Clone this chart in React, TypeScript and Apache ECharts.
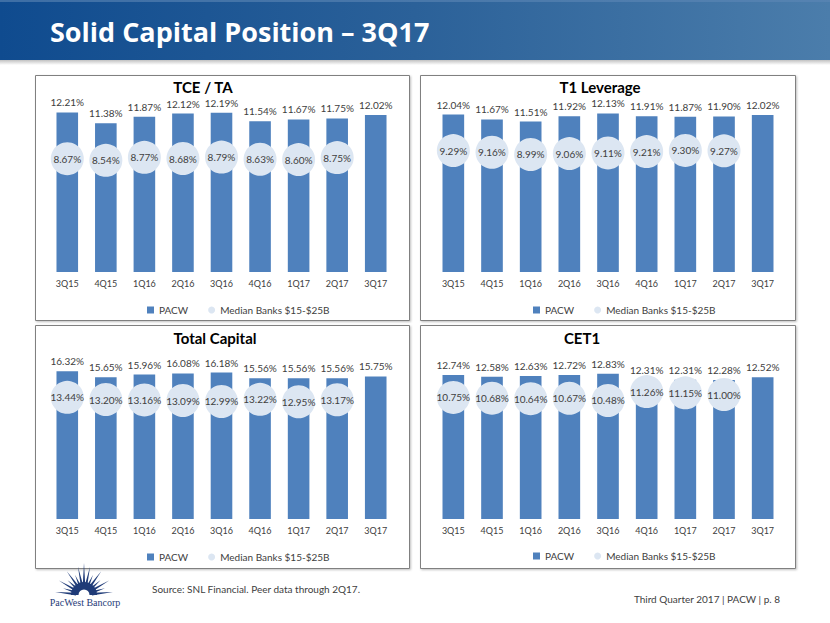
import React, { useEffect, useRef } from "react";
import * as echarts from "echarts";

const categories = ["3Q15", "4Q15", "1Q16", "2Q16", "3Q16", "4Q16", "1Q17", "2Q17", "3Q17"];
const tceTaPacw = [12.21, 11.38, 11.87, 12.12, 12.19, 11.54, 11.67, 11.75, 12.02];
const tceTaMedian = [8.67, 8.54, 8.77, 8.68, 8.79, 8.63, 8.6, 8.75];
const t1LevPacw = [12.04, 11.67, 11.51, 11.92, 12.13, 11.91, 11.87, 11.9, 12.02];
const t1LevMedian = [9.29, 9.16, 8.99, 9.06, 9.11, 9.21, 9.3, 9.27];
const totalCapPacw = [16.32, 15.65, 15.96, 16.08, 16.18, 15.56, 15.56, 15.56, 15.75];
const totalCapMedian = [13.44, 13.2, 13.16, 13.09, 12.99, 13.22, 12.95, 13.17];
const cet1Pacw = [12.74, 12.58, 12.63, 12.72, 12.83, 12.31, 12.31, 12.28, 12.52];
const cet1Median = [10.75, 10.68, 10.64, 10.67, 10.48, 11.26, 11.15, 11.0];

const panelTitles = ["TCE / TA", "T1 Leverage", "Total Capital", "CET1"];
const seriesNames = ["PACW", "Median Banks $15-$25B"];
const pageTitle = "Solid Capital Position \u2013 3Q17";
const sourceText = "Source: SNL Financial. Peer data through 2Q17.";
const footerText = "Third Quarter 2017 | PACW | p. 8";
const logoText = "PacWest Bancorp";

const FONT = "Lato, 'Open Sans', sans-serif";
const TITLE_FONT = "'Open Sans', Lato, sans-serif";
const TXT = "#404040";
const BAR = "#4f81bd";
const DOT = "#dce6f2";
const NAVY = "#1f3b78";

const panels = [
  { pacw: tceTaPacw, med: tceTaMedian, max: 14, grid: { left: 48, top: 89, width: 347, height: 183 }, box: [35, 75, 374, 245], title: [203, 87], legend: [142, 300] },
  { pacw: t1LevPacw, med: t1LevMedian, max: 14, grid: { left: 434, top: 89, width: 348, height: 183 }, box: [420, 75, 375, 245], title: [600, 87], legend: [528, 300] },
  { pacw: totalCapPacw, med: totalCapMedian, max: 20, grid: { left: 48, top: 338, width: 347, height: 181 }, box: [35, 325, 374, 243], title: [215, 338], legend: [142, 547] },
  { pacw: cet1Pacw, med: cet1Median, max: 16, grid: { left: 434, top: 338, width: 348, height: 181 }, box: [420, 325, 375, 243], title: [582, 338], legend: [528, 546] },
];

function logoElements(): any[] {
  const cx = 84;
  const cy = 595;
  const els: any[] = [];
  const n = 15;
  for (let i = 0; i < n; i++) {
    const a = (Math.PI * (i + 0.5)) / n;
    const mid = i === Math.floor(n / 2);
    const len = mid ? 32 : i % 2 === 0 ? 29 : 22;
    const da = 0.17;
    const r0 = 8;
    const pts = [
      [cx + r0 * Math.cos(a - da), cy - r0 * Math.sin(a - da)],
      [cx + len * Math.cos(a), cy - len * Math.sin(a)],
      [cx + r0 * Math.cos(a + da), cy - r0 * Math.sin(a + da)],
    ];
    els.push({ type: "polygon", shape: { points: pts }, style: { fill: NAVY }, silent: true });
  }
  els.push({ type: "sector", shape: { cx, cy, r: 13, startAngle: Math.PI, endAngle: 2 * Math.PI }, style: { fill: NAVY }, silent: true });
  els.push({ type: "sector", shape: { cx, cy, r: 5.5, startAngle: Math.PI, endAngle: 2 * Math.PI }, style: { fill: "#ffffff" }, silent: true });
  els.push({
    type: "text",
    style: { text: logoText, x: cx + 1, y: 602, fill: NAVY, fontFamily: "'Liberation Serif', 'DejaVu Serif', serif", fontSize: 10, align: "center", verticalAlign: "middle" },
    silent: true,
  });
  return els;
}

export default function App() {
  const ref = useRef<HTMLDivElement>(null);
  useEffect(() => {
    document.body.style.margin = "0";
    if (!ref.current) return;
    const chart = echarts.init(ref.current, null, { renderer: "svg" });

    const graphic: any[] = [
      {
        type: "rect",
        shape: { x: 0, y: 58, width: 830, height: 7 },
        style: { fill: new echarts.graphic.LinearGradient(0, 0, 0, 1, [{ offset: 0, color: "#a9a9a9" }, { offset: 1, color: "#ffffff" }]) },
        silent: true,
      },
      {
        type: "rect",
        shape: { x: 0, y: 0, width: 830, height: 60 },
        style: {
          fill: new echarts.graphic.LinearGradient(0, 0, 1, 0, [
            { offset: 0, color: "#0f4b8f" },
            { offset: 0.5, color: "#2b6199" },
            { offset: 1, color: "#4b7dab" },
          ]),
        },
        silent: true,
      },
      { type: "rect", shape: { x: 0, y: 0, width: 830, height: 2 }, style: { fill: "#5d87b5", opacity: 0.6 }, silent: true },
      {
        type: "text",
        style: { text: pageTitle, x: 50, y: 31, fill: "#ffffff", fontFamily: TITLE_FONT, fontWeight: "bold", fontSize: 27, align: "left", verticalAlign: "middle" },
        silent: true,
      },
      {
        type: "text",
        style: { text: sourceText, x: 152, y: 589, fill: TXT, fontFamily: FONT, fontSize: 10, align: "left", verticalAlign: "middle" },
        silent: true,
      },
      {
        type: "text",
        style: { text: footerText, x: 780, y: 599, fill: TXT, fontFamily: FONT, fontSize: 10, align: "right", verticalAlign: "middle" },
        silent: true,
      },
      ...logoElements(),
    ];

    panels.forEach((p, i) => {
      graphic.push({
        type: "rect",
        z: -1,
        shape: { x: p.box[0] + 0.5, y: p.box[1] + 0.5, width: p.box[2], height: p.box[3] },
        style: { fill: "#ffffff", stroke: "#808080", lineWidth: 1, shadowBlur: 2, shadowColor: "rgba(0,0,0,0.25)", shadowOffsetX: 1, shadowOffsetY: 1 },
        silent: true,
      });
      graphic.push({
        type: "text",
        style: { text: panelTitles[i], x: p.title[0], y: p.title[1], fill: "#000000", fontFamily: FONT, fontWeight: "bold", fontSize: 15, align: "center", verticalAlign: "middle" },
        silent: true,
      });
    });

    const option: any = {
      animation: false,
      backgroundColor: "#ffffff",
      textStyle: { fontFamily: FONT },
      graphic: { elements: graphic },
      grid: panels.map((p) => ({ ...p.grid, containLabel: false })),
      xAxis: panels.map((_, i) => ({
        type: "category",
        gridIndex: i,
        data: categories,
        axisLine: { show: false },
        axisTick: { show: false },
        axisLabel: { color: TXT, fontSize: 9, fontFamily: FONT, margin: 7 },
      })),
      yAxis: panels.map((p, i) => ({
        type: "value",
        gridIndex: i,
        min: 0,
        max: p.max,
        show: false,
        splitLine: { show: false },
      })),
      legend: panels.map((p) => ({
        left: p.legend[0],
        top: p.legend[1],
        itemWidth: 7,
        itemHeight: 7,
        itemGap: 20,
        textStyle: { color: TXT, fontSize: 10, fontFamily: FONT },
        data: [
          { name: seriesNames[0], icon: "rect" },
          { name: seriesNames[1], icon: "circle" },
        ],
      })),
      series: panels.flatMap((p, i) => [
        {
          type: "bar",
          name: seriesNames[0],
          xAxisIndex: i,
          yAxisIndex: i,
          data: p.pacw,
          barWidth: "56%",
          itemStyle: { color: BAR },
          z: 2,
          label: {
            show: true,
            position: "top",
            distance: 5,
            color: TXT,
            fontSize: 10,
            fontFamily: FONT,
            formatter: (d: any) => Number(d.value).toFixed(2) + "%",
          },
        },
        {
          type: "scatter",
          name: seriesNames[1],
          xAxisIndex: i,
          yAxisIndex: i,
          data: p.med,
          symbol: "circle",
          symbolSize: 33,
          itemStyle: { color: DOT, opacity: 1 },
          z: 3,
          label: {
            show: true,
            position: "inside",
            color: TXT,
            fontSize: 10,
            fontFamily: FONT,
            formatter: (d: any) => Number(d.value).toFixed(2) + "%",
          },
        },
      ]),
    };
    chart.setOption(option);
    return () => chart.dispose();
  }, []);
  return <div ref={ref} style={{ width: 830, height: 623 }} />;
}
